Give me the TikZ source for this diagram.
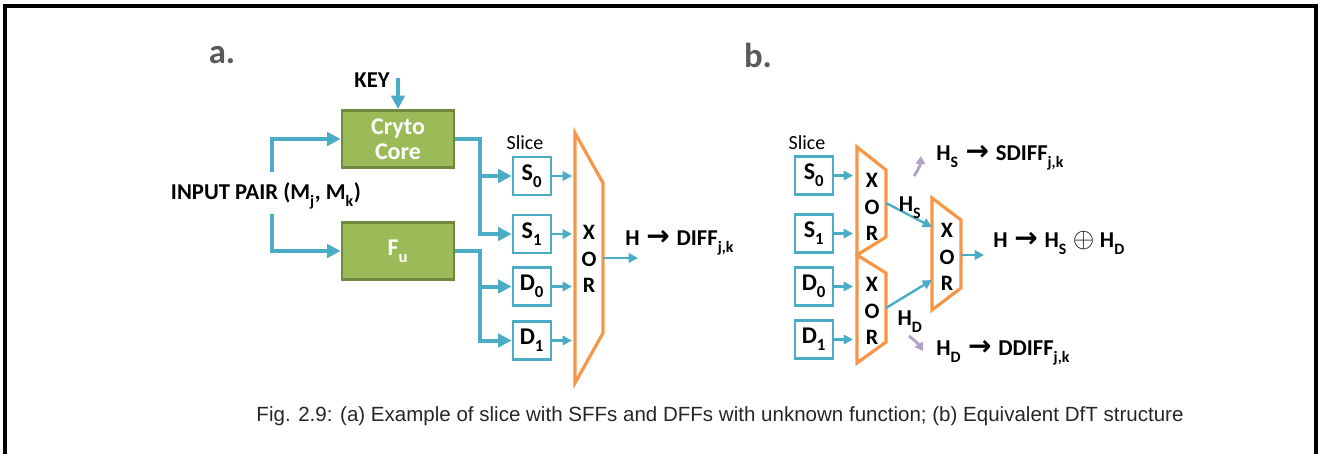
\documentclass[tikz,border=0pt]{standalone}
\usepackage{fontspec}
\setmainfont{Carlito}
\newfontfamily\capfont{Liberation Sans}
\newfontfamily\symfont{DejaVu Sans}
\usetikzlibrary{arrows.meta}
\definecolor{wire}{HTML}{4BACC6}
\definecolor{corefill}{HTML}{9BBB59}
\definecolor{coredraw}{HTML}{71893F}
\definecolor{gate}{HTML}{F79646}
\definecolor{tap}{HTML}{B3A2C7}
\definecolor{panel}{HTML}{595959}
\definecolor{captext}{HTML}{262626}
% bold arrow and xor symbol
\newcommand{\imp}{\hspace{0.3em}{\symfont\bfseries\fontsize{21}{20}\selectfont →}\hspace{0.3em}}
\newcommand{\xorsym}{\hspace{0.25em}{\fontsize{21}{20}\selectfont$\oplus$}\hspace{0.25em}}
\newcommand{\dn}[1]{\raisebox{-0.15em}{\textsubscript{#1}}}
\begin{document}
\begin{tikzpicture}[x=0.75pt,y=-0.75pt,
  bus/.style={wire,line width=3pt,-{Triangle[length=10pt,width=10pt]}},
  sig/.style={wire,line width=1.8pt,-{Triangle[length=7pt,width=7pt]}},
  tapar/.style={tap,line width=2.2pt,-{Triangle[length=6pt,width=7pt]}},
  core/.style={draw=coredraw,fill=corefill,line width=2.2pt,minimum width=84pt,minimum height=42.75pt,
    text=white,font=\fontsize{18}{20}\selectfont\bfseries,align=center,inner sep=0pt},
  ff/.style={draw=wire,line width=2.2pt,fill=white,minimum width=28.5pt,minimum height=28.5pt,
    inner sep=0pt,font=\fontsize{18}{20}\selectfont\bfseries},
  xorgate/.style={draw=gate,line width=2.4pt,line join=miter},
  xortext/.style={align=center,font=\fontsize{16.5}{20}\selectfont\bfseries,inner sep=0pt},
  lbl/.style={font=\fontsize{17}{20}\selectfont\bfseries,inner sep=0pt},
  panelname/.style={font=\fontsize{26}{30}\selectfont\bfseries,text=panel,inner sep=0pt},
  slicetext/.style={font=\fontsize{15}{18}\selectfont,inner sep=0pt}
]
\useasboundingbox (0,0) rectangle (1326,454);
% outer frame, open at the bottom
\draw[line width=2.4pt] (5,454) -- (5,6) -- (1316,6) -- (1316,454);

% ---------------- panel a ----------------
\node[panelname] (pa) at (222,55) {a.};
\node[lbl] (key) at (372,80) {KEY};
\coordinate (keyin) at (398,78);
\node[core] (cc) at (398,139) {Cryto\\[-1pt]Core};
\node[core] (fu) at (398,251) {F\dn{u}};
\draw[bus] (keyin) -- (cc.north);

\node[lbl] (inp) at (266,196) {INPUT PAIR (M\dn{j}, M\dn{k})};
\coordinate (tu) at (272,172);
\coordinate (td) at (272,214);
\draw[bus] (tu) |- (cc.west);
\draw[bus] (td) |- (fu.west);

\node[slicetext] (sla) at (525,143) {Slice};
\node[ff] (as0) at (532,176) {S\dn{0}};
\node[ff] (as1) at (532,234) {S\dn{1}};
\node[ff] (ad0) at (532,286.5) {D\dn{0}};
\node[ff] (ad1) at (532,340.5) {D\dn{1}};

\coordinate (ja) at (480,0);
\draw[bus] (cc.east) -| (ja |- as1.west) -- (as1.west);
\draw[bus] (ja |- as0.west) -- (as0.west);
\draw[bus] (fu.east) -| (ja |- ad1.west) -- (ad1.west);
\draw[bus] (ja |- ad0.west) -- (ad0.west);

% wide XOR of panel a
\draw[xorgate] (575,133) -- (603,183) -- (603,333) -- (575,383) -- cycle;
\node[xortext] (xa) at (589,259) {X\\O\\R};
\coordinate (xain) at (572,0);
\foreach \b in {as0,as1,ad0,ad1} \draw[sig] (\b.east) -- (xain |- \b.east);
\coordinate (xaout) at (603,258);
\coordinate (oa) at (638,258);
\draw[sig] (xaout) -- (oa);
\node[lbl,anchor=west] (ha) at (625,243) {H\imp DIFF\dn{j,k}};

% ---------------- panel b ----------------
\node[panelname] (pb) at (758,55) {b.};
\node[slicetext] (slb) at (807,143) {Slice};
\node[ff] (bs0) at (814,175.5) {S\dn{0}};
\node[ff] (bs1) at (814,233.5) {S\dn{1}};
\node[ff] (bd0) at (814,286.5) {D\dn{0}};
\node[ff] (bd1) at (814,339.5) {D\dn{1}};

\draw[xorgate] (857,147) -- (886,170) -- (886,237) -- (857,255) -- cycle;
\draw[xorgate] (857,255) -- (886,273) -- (886,342) -- (857,363) -- cycle;
\draw[xorgate] (932,198) -- (961,220) -- (961,288) -- (932,310) -- cycle;
\node[xortext] (xs) at (872,207) {X\\O\\R};
\node[xortext] (xd) at (872,311) {X\\O\\R};
\node[xortext] (xh) at (947,257) {X\\O\\R};

\coordinate (xbin) at (853,0);
\foreach \b in {bs0,bs1,bd0,bd1} \draw[sig] (\b.east) -- (xbin |- \b.east);

\coordinate (hsout) at (886,203);
\coordinate (hdout) at (886,308);
\coordinate (hsin) at (932,227);
\coordinate (hdin) at (932,280);
\draw[sig] (hsout) -- (hsin);
\draw[sig] (hdout) -- (hdin);
\node[lbl] (hs) at (910,208) {H\dn{S}};
\node[lbl] (hd) at (910,322) {H\dn{D}};

\coordinate (xhout) at (961,255);
\coordinate (ob) at (984,255);
\draw[sig] (xhout) -- (ob);
\node[lbl,anchor=west] (hb) at (993,243) {H\imp H\dn{S}\xorsym H\dn{D}};

\coordinate (upa) at (914,176);
\coordinate (upb) at (921,156);
\draw[tapar] (upa) to[bend right=15] (upb);
\coordinate (dna) at (909,336);
\coordinate (dnb) at (923,351);
\draw[tapar] (dna) to[bend left=10] (dnb);
\node[lbl,anchor=west] (sdiff) at (936,158) {H\dn{S}\imp SDIFF\dn{j,k}};
\node[lbl,anchor=west] (ddiff) at (936,353) {H\dn{D}\imp DDIFF\dn{j,k}};

% caption
\node[font=\capfont\fontsize{15.4}{18}\selectfont,text=captext,inner sep=0pt] (cap) at (720,416)
  {Fig. 2.9: (a) Example of slice with SFFs and DFFs with unknown function; (b) Equivalent DfT structure};
\end{tikzpicture}
\end{document}
